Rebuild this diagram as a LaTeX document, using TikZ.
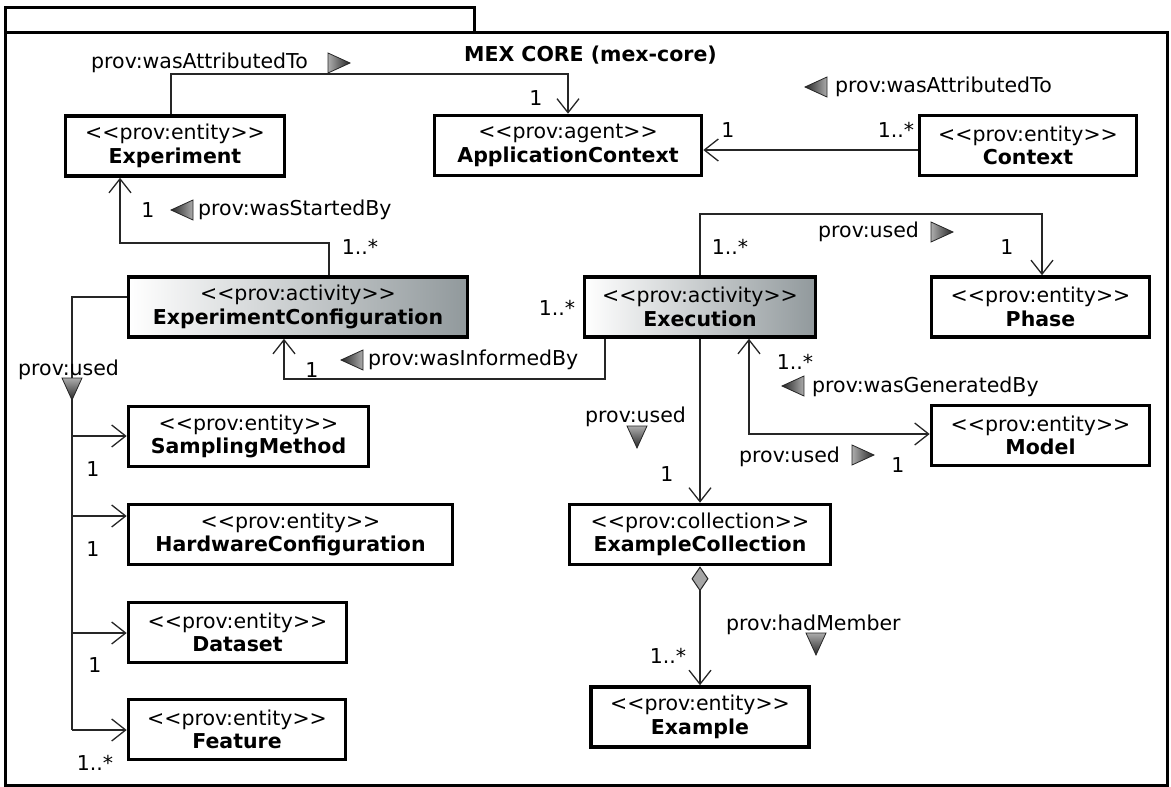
\documentclass[tikz,border=0pt]{standalone}
\usepackage{fontspec}
\setmainfont{DejaVu Sans}
\usetikzlibrary{arrows.meta}
\definecolor{actgray}{RGB}{145,153,156}
\newcommand{\stereo}[1]{<\kern0pt<#1>\kern0pt>}
\tikzset{
  triR/.pic={\draw[black!85, line width=0.8pt, left color=gray!65, right color=black!85]
    (-10,-10) -- (12,0) -- (-10,10) -- cycle;},
  triL/.pic={\draw[black!85, line width=0.8pt, left color=black!85, right color=gray!65]
    (10,-10) -- (-12,0) -- (10,10) -- cycle;},
  triD/.pic={\draw[black!85, line width=0.8pt, top color=gray!65, bottom color=black!85]
    (-10,-10) -- (0,12) -- (10,-10) -- cycle;},
}
\begin{document}
\begin{tikzpicture}[x=1pt, y=-1pt,
  every node/.style={font=\fontsize{20.5}{23.5}\selectfont, inner sep=0pt},
  cls/.style={draw=black, line width=3.6pt, fill=white, align=center, minimum height=60pt},
  act/.style={cls, left color=white, right color=actgray},
  conn/.style={draw=black!85, line width=1.3pt},
  toarrow/.style={-{Straight Barb[length=14pt,width=22pt,line width=1.3pt]}},
  botharrow/.style={{Straight Barb[length=14pt,width=22pt,line width=1.3pt]}-{Straight Barb[length=14pt,width=22pt,line width=1.3pt]}},
  member/.style={{Diamond[length=25pt,width=17pt,fill=gray!70,line width=1pt]}-{Straight Barb[length=14pt,width=22pt,line width=1.3pt]}},
  bold/.style={font=\fontsize{20.5}{23.5}\selectfont\bfseries}
]
\useasboundingbox (0,0) rectangle (1171,787);

% package frame with its tab
\draw[line width=3pt] (5,32) rectangle (1167,785);
\draw[line width=3pt] (5,32) -- (5,7) -- (474,7) -- (474,32);
\node[bold] (title) at (590.5,55) {MEX CORE (mex-core)};

% classes
\node[cls, minimum width=219pt] (exp) at (175,146) {\stereo{prov:entity}\\\textbf{Experiment}};
\node[cls, minimum width=267pt] (ac) at (568,145.5) {\stereo{prov:agent}\\\textbf{ApplicationContext}};
\node[cls, minimum width=217pt] (ctx) at (1028,145.5) {\stereo{prov:entity}\\\textbf{Context}};
\node[act, minimum width=339pt] (ecfg) at (298,307) {\stereo{prov:activity}\\\textbf{ExperimentConfiguration}};
\node[act, minimum width=231pt] (exe) at (700,307) {\stereo{prov:activity}\\\textbf{Execution}};
\node[cls, minimum width=218pt] (phase) at (1040.5,307) {\stereo{prov:entity}\\\textbf{Phase}};
\node[cls, minimum width=218pt] (model) at (1040.5,435.5) {\stereo{prov:entity}\\\textbf{Model}};
\node[cls, minimum width=240pt] (smp) at (248.5,436.5) {\stereo{prov:entity}\\\textbf{SamplingMethod}};
\node[cls, minimum width=324pt] (hw) at (290.5,534.5) {\stereo{prov:entity}\\\textbf{HardwareConfiguration}};
\node[cls, minimum width=218pt] (ds) at (237.5,632.5) {\stereo{prov:entity}\\\textbf{Dataset}};
\node[cls, minimum width=217pt] (feat) at (237,729.5) {\stereo{prov:entity}\\\textbf{Feature}};
\node[cls, minimum width=261pt] (ecol) at (700,534.5) {\stereo{prov:collection}\\\textbf{ExampleCollection}};
\node[cls, minimum width=218pt] (ex) at (700,717) {\stereo{prov:entity}\\\textbf{Example}};

% Experiment -> ApplicationContext
\draw[conn, toarrow] (exp.north -| 171,0) -- (171,74) -- (568,74) -- (ac.north);
\node[anchor=west] (l1) at (91,63) {prov:wasAttributedTo};
\pic at (338,63) {triR};
\node (m1) at (536,98) {1};

% Context -> ApplicationContext
\draw[conn, toarrow] (ctx.west |- 0,150) -- (ac.east |- 0,150);
\pic at (817,87) {triL};
\node[anchor=west] (l2) at (835,87) {prov:wasAttributedTo};
\node (m2) at (728,130) {1};
\node (m3) at (896,130) {1..*};

% ExperimentConfiguration -> Experiment
\draw[conn, toarrow] (ecfg.north -| 329,0) -- (329,243) -- (120,243) -- (exp.south -| 120,0);
\node (m4) at (148,210) {1};
\pic at (183,210) {triL};
\node[anchor=west] (l3) at (198,210) {prov:wasStartedBy};
\node (m5) at (360,247) {1..*};

% Execution -> ExperimentConfiguration
\draw[conn, toarrow] (exe.south -| 605,0) -- (605,379) -- (284,379) -- (ecfg.south -| 284,0);
\node (m6) at (557,308) {1..*};
\node (m7) at (312,370) {1};
\pic at (353,360) {triL};
\node[anchor=west] (l4) at (368,360) {prov:wasInformedBy};

% Execution -> Phase
\draw[conn, toarrow] (exe.north) -- (700,214) -- (1042,214) -- (phase.north -| 1042,0);
\node (m8) at (730,247) {1..*};
\node[anchor=west] (l5) at (818,232) {prov:used};
\pic at (941,232) {triR};
\node (m9) at (1007,247) {1};

% Execution <-> Model
\draw[conn, botharrow] (exe.south -| 749,0) -- (749,434) -- (model.west |- 0,434);
\node (m10) at (795,362) {1..*};
\pic at (794,386) {triL};
\node[anchor=west] (l6) at (812,387) {prov:wasGeneratedBy};
\node[anchor=west] (l7) at (739,457) {prov:used};
\pic at (862,455) {triR};
\node (m11) at (898,465) {1};

% Execution -> ExampleCollection
\draw[conn, toarrow] (exe.south) -- (ecol.north);
\node[anchor=west] (l8) at (585,417) {prov:used};
\pic at (637,436) {triD};
\node (m12) at (667,474) {1};

% ExampleCollection -> Example
\draw[conn, member] (ecol.south) -- (ex.north);
\node[anchor=west] (l9) at (726,625) {prov:hadMember};
\pic at (816,643) {triD};
\node (m13) at (668,656) {1..*};

% ExperimentConfiguration -> used entities
\coordinate (j1) at (72,436);
\coordinate (j2) at (72,516);
\coordinate (j3) at (72,633);
\coordinate (j4) at (72,730);
\draw[conn] (ecfg.west |- 0,297) -- (72,297) -- (j4);
\draw[conn, toarrow] (j1) -- (smp.west |- j1);
\draw[conn, toarrow] (j2) -- (hw.west |- j2);
\draw[conn, toarrow] (j3) -- (ds.west |- j3);
\draw[conn, toarrow] (j4) -- (feat.west |- j4);
\node[anchor=west] (l10) at (18,370) {prov:used};
\pic at (72,388) {triD};
\node (m14) at (93,469) {1};
\node (m15) at (93,549) {1};
\node (m16) at (95,665) {1};
\node (m17) at (95,763) {1..*};
\end{tikzpicture}
\end{document}
